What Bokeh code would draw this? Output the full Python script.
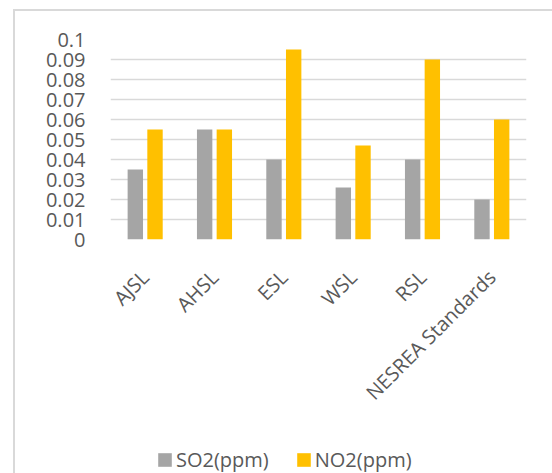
from bokeh.plotting import figure
from bokeh.models import (ColumnDataSource, FactorRange, Range1d, FixedTicker,
                          CustomJSTickFormatter, Legend, LegendItem)
from bokeh.layouts import column
from bokeh.transform import dodge
from bokeh.embed import file_html
from bokeh.resources import INLINE
import math

categories = ["AJSL", "AHSL", "ESL", "WSL", "RSL", "NESREA Standards"]
so2 = [0.035, 0.055, 0.04, 0.026, 0.04, 0.02]
no2 = [0.055, 0.055, 0.095, 0.047, 0.09, 0.06]
y_ticks = [0, 0.01, 0.02, 0.03, 0.04, 0.05, 0.06, 0.07, 0.08, 0.09, 0.1]
series_names = ["SO2(ppm)", "NO2(ppm)"]
colors = ["#a5a5a5", "#ffc000"]

src = ColumnDataSource(data=dict(cat=categories, so2=so2, no2=no2))

FONT = "Open Sans"
TXT = "#595959"

p = figure(width=537, height=429, output_backend="svg", toolbar_location=None,
           x_range=FactorRange(*categories, range_padding=0),
           y_range=Range1d(0, 0.1),
           min_border_left=95, min_border_right=26, min_border_top=28,
           min_border_bottom=201)
p.outline_line_color = None
p.background_fill_color = "white"
p.border_fill_color = "white"

p.vbar(x=dodge("cat", -0.142, range=p.x_range), top="so2", width=0.222,
       source=src, fill_color=colors[0], line_color=None)
p.vbar(x=dodge("cat", 0.142, range=p.x_range), top="no2", width=0.222,
       source=src, fill_color=colors[1], line_color=None)

p.xgrid.grid_line_color = None
p.ygrid.grid_line_color = "#d9d9d9"
p.ygrid.grid_line_width = 1.5
p.yaxis.ticker = FixedTicker(ticks=y_ticks)
p.yaxis.formatter = CustomJSTickFormatter(code="return String(Number(tick.toFixed(3)));")
p.yaxis.axis_line_color = None
p.yaxis.major_tick_line_color = None
p.yaxis.minor_tick_line_color = None
p.yaxis.major_tick_out = 0
p.yaxis.major_tick_in = 0
p.yaxis.major_label_standoff = 25
p.yaxis.major_label_text_font = FONT
p.yaxis.major_label_text_font_size = "20px"
p.yaxis.major_label_text_color = TXT

p.xaxis.axis_line_color = None
p.xaxis.major_tick_line_color = None
p.xaxis.minor_tick_line_color = None
p.xaxis.major_tick_out = 0
p.xaxis.major_tick_in = 0
p.xaxis.major_label_orientation = math.pi / 4
p.xaxis.major_label_standoff = 34
p.xaxis.major_label_text_font = FONT
p.xaxis.major_label_text_font_size = "20px"
p.xaxis.major_label_text_color = TXT

# legend strip (its own small canvas so the legend is not clipped);
# proxy bars use the same data but lie outside this strip's visible range
lg = figure(width=537, height=33, output_backend="svg", toolbar_location=None,
            x_range=FactorRange(*categories, range_padding=0), y_range=Range1d(1, 2),
            x_axis_type=None, y_axis_type=None,
            min_border=0, min_border_left=0, min_border_right=0,
            min_border_top=0, min_border_bottom=0)
lg.outline_line_color = None
lg.background_fill_color = "white"
lg.border_fill_color = "white"
lg.xgrid.visible = False
lg.ygrid.visible = False
lr1 = lg.vbar(x="cat", top="so2", width=0.2, source=src,
              fill_color=colors[0], line_color=None)
lr2 = lg.vbar(x="cat", top="no2", width=0.2, source=src,
              fill_color=colors[1], line_color=None)
legend = Legend(items=[LegendItem(label=series_names[0], renderers=[lr1]),
                       LegendItem(label=series_names[1], renderers=[lr2])],
                location=(46, 0), orientation="horizontal",
                padding=0, margin=0, spacing=26, label_standoff=3,
                glyph_width=17, glyph_height=17,
                border_line_color=None, background_fill_alpha=0,
                label_text_font=FONT, label_text_font_size="20px",
                label_text_color=TXT)
lg.add_layout(legend, "center")

layout = column(p, lg, spacing=0)
layout.styles = {"border-left": "2px solid #d9d9d9", "border-top": "2px solid #d9d9d9",
                 "margin-left": "13px", "margin-top": "9px"}

open("out.html", "w").write(file_html(layout, INLINE))
